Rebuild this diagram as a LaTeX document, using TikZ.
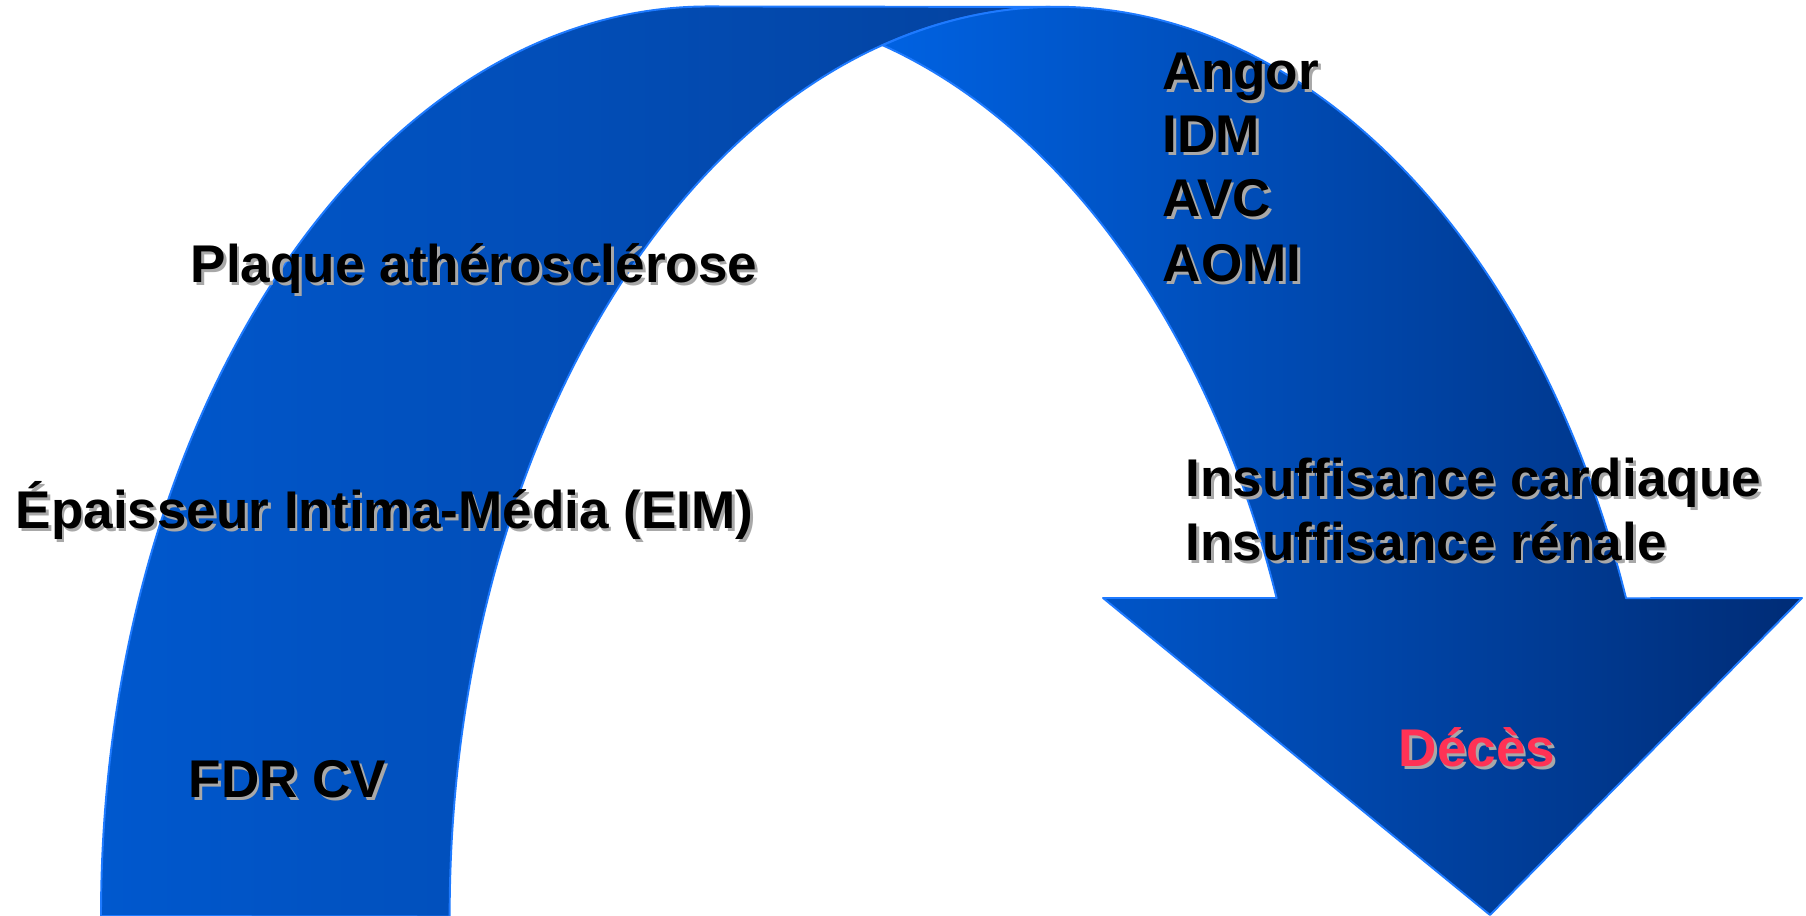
\documentclass[tikz,border=0pt]{standalone}
\usepackage{fontspec}
\setmainfont{Liberation Sans}
\definecolor{backL}{RGB}{0,88,206}
\definecolor{backM}{RGB}{0,84,198}
\definecolor{backR}{RGB}{4,66,158}
\definecolor{frontL}{RGB}{0,98,226}
\definecolor{frontR}{RGB}{0,44,118}
\definecolor{edge}{RGB}{30,122,255}
\definecolor{shadowgray}{RGB}{168,168,168}
\definecolor{deathred}{RGB}{255,50,85}
\newcommand\shd[2][black]{\makebox[0pt][l]{\hspace{0.75pt}\raisebox{-0.75pt}{\textcolor{shadowgray}{#2}}}\textcolor{#1}{#2}}
\begin{document}
\begin{tikzpicture}[x=0.01cm,y=0.01cm,
  band/.style={draw=edge, line width=0.55pt, line join=round},
  lbl/.style={anchor=base west, inner sep=0pt, font=\bfseries\fontsize{15.1}{18}\selectfont},
  ell/.style={x radius=6.07cm, y radius=9.09cm}]
\useasboundingbox (0,0) rectangle (1806,916);
\fill[white] (0,0) rectangle (1806,916);
% back band
\coordinate (bl) at (101,0);
\coordinate (tl) at (708,909);
\coordinate (tr) at (1057,909);
\path[band, left color=backL, middle color=backM, right color=backR]
  (bl) arc[start angle=180, end angle=90, ell] -- (tr)
  arc[start angle=90, end angle=180, ell] -- cycle;
% front band with arrow head
\coordinate (meet) at (882.5,870.6);
\coordinate (oute) at (1625.6,318);
\coordinate (hr) at (1802,318);
\coordinate (tip) at (1490,1);
\coordinate (hl) at (1103,318);
\coordinate (inne) at (1276.6,318);
\path[band, left color=frontL, right color=frontR]
  (meet) arc[start angle=106.71, end angle=20.48, ell] -- (hr) -- (tip) -- (hl) -- (inne)
  arc[start angle=20.48, end angle=73.29, ell] -- cycle;
% labels
\node[lbl] (plaque) at (190,633) {\shd{Plaque athérosclérose}};
\node[lbl] (eim) at (15,387) {\shd{Épaisseur Intima-Média (EIM)}};
\node[lbl] (fdr) at (188,118) {\shd{FDR CV}};
\node[lbl] (angor) at (1162,826) {\shd{Angor}};
\node[lbl] (idm) at (1162,763) {\shd{IDM}};
\node[lbl] (avc) at (1162,699) {\shd{AVC}};
\node[lbl] (aomi) at (1162,634) {\shd{AOMI}};
\node[lbl] (ic) at (1185,419) {\shd{Insuffisance cardiaque}};
\node[lbl] (ir) at (1185,355) {\shd{Insuffisance rénale}};
\node[lbl] (deces) at (1398,149) {\shd[deathred]{Décès}};
\end{tikzpicture}
\end{document}
